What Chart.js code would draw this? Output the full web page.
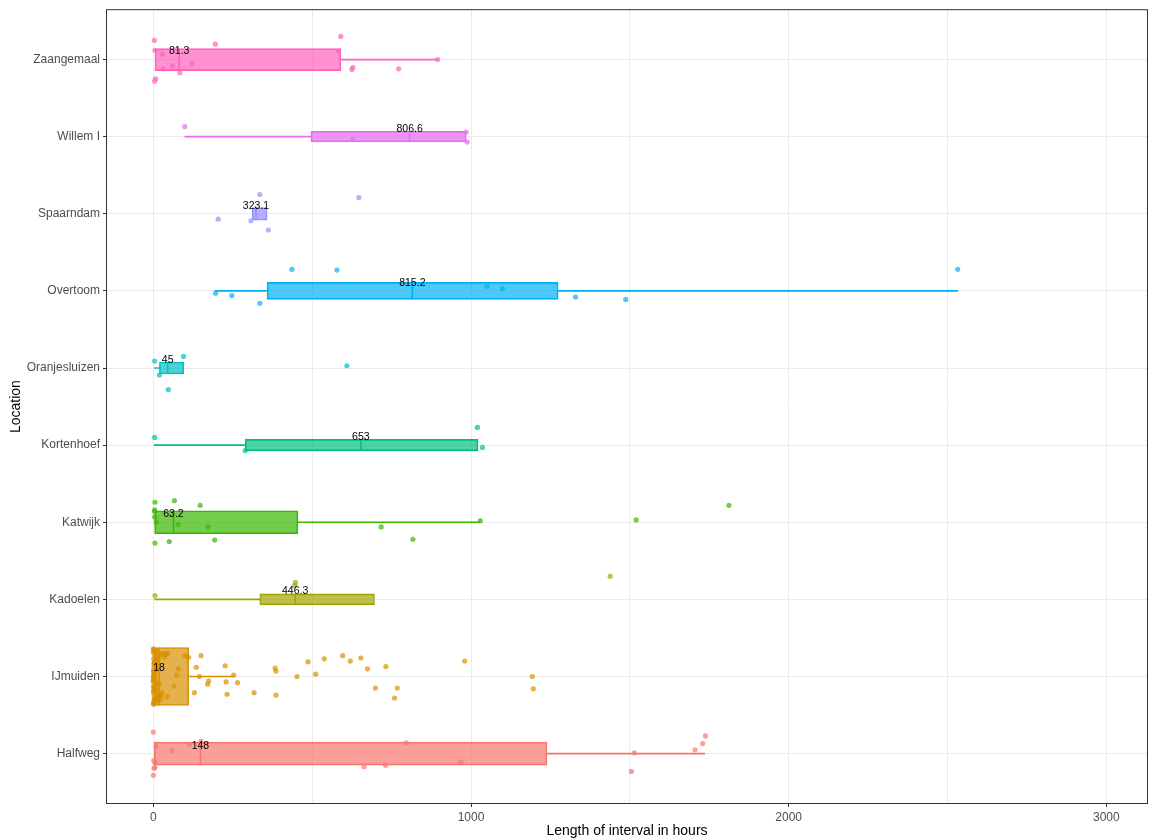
<!DOCTYPE html>
<html>
<head>
<meta charset="utf-8">
<script src="https://cdn.jsdelivr.net/npm/chart.js@4.4.1/dist/chart.umd.min.js"></script>
<style>
  html, body { margin: 0; padding: 0; background: #fff; }
  canvas { display: block; }
</style>
</head>
<body>
<canvas id="mychart" width="1151" height="840"></canvas>
<script>
// locations from bottom (1) to top (10)
const locations = ['Halfweg', 'IJmuiden', 'Kadoelen', 'Katwijk', 'Kortenhoef',
                   'Oranjesluizen', 'Overtoom', 'Spaarndam', 'Willem I', 'Zaangemaal'];

const lowWhisker  = [null, null, 4,     null, 3,    3,  194,   null,  99,    null];
const q1          = [3,    5,    335,   4,    289,  19, 358,   311,   496,   5];
const medians     = [148,  18,   446.3, 63.2, 653,  45, 815.2, 323.1, 806.6, 81.3];
const q3          = [1239, 111,  696,   455,  1022, 96, 1274,  358,   985,   590];
const highWhisker = [1736, 253,  null,  1029, null, null, 2532, null, null,  895];

const xTicks = [0, 500, 1000, 1500, 2000, 2500, 3000];

// jittered observations: hours and vertical jitter (in category units)
const pointHours = [
  [0, 8, 59, 113, 150, 1, 5, 2, 5, 0, 663, 731, 796, 968, 1514, 1505, 1705, 1729, 1738],
  [100, 111, 150, 135, 145, 78, 74, 65, 44, 129, 174, 171, 226, 229, 253, 265, 232, 317, 383, 386,
   386, 452, 487, 511, 538, 596, 620, 653, 674, 732, 699, 768, 759, 980, 1193, 1196,
   0, 1, 2, 3, 0, 5, 8, 2, 12, 4, 1, 0, 6, 15, 3, 9, 22, 2, 0, 7,
   18, 1, 4, 30, 11, 0, 2, 5, 25, 3, 14, 1, 8, 0, 40, 6, 2, 19, 3, 10,
   1, 27, 0, 4, 35, 2, 9, 16, 1, 5, 0, 13, 3, 21, 7, 2, 45, 1, 0, 6],
  [5, 447, 445, 1438],
  [5, 66, 147, 4, 4, 4, 9, 78, 172, 717, 1029, 817, 5, 50, 193, 1520, 1812],
  [4, 289, 1020, 1036],
  [4, 95, 19, 47, 609],
  [196, 247, 335, 436, 578, 1050, 1099, 1329, 1487, 2532],
  [335, 647, 204, 307, 362],
  [99, 628, 985, 988],
  [3, 5, 28, 195, 590, 583, 60, 31, 83, 122, 7, 4, 628, 625, 772, 895]
];
const pointJitter = [
  [0.28, 0.09, 0.04, 0.12, 0.16, -0.09, -0.12, -0.19, -0.18, -0.28, -0.17, -0.15, 0.14, -0.11, 0.01, -0.23, 0.05, 0.13, 0.23],
  [0.27, 0.25, 0.27, 0.12, 0.0, 0.10, 0.02, -0.12, -0.26, -0.21, -0.06, -0.10, 0.14, -0.07, 0.02, -0.08, -0.23, -0.21, 0.11, 0.07,
   -0.24, 0.0, 0.19, 0.03, 0.23, 0.27, 0.20, 0.24, 0.10, 0.13, -0.15, -0.15, -0.28, 0.20, 0.0, -0.16,
   0.31, -0.22, 0.05, 0.18, -0.35, 0.27, -0.08, 0.12, 0.33, -0.29, 0.02, 0.36, -0.15, 0.22, -0.02, 0.09, 0.28, -0.31, -0.19, 0.15,
   -0.26, 0.07, -0.12, 0.3, 0.24, -0.05, 0.34, -0.33, -0.24, 0.19, 0.11, -0.36, 0.26, 0.0, 0.29, -0.18, 0.16, -0.1, -0.27, 0.21,
   0.35, -0.21, -0.13, 0.04, 0.25, -0.34, 0.13, -0.28, 0.08, 0.32, -0.07, -0.23, 0.17, -0.3, 0.2, -0.16, 0.3, 0.23, -0.04, -0.32],
  [0.05, 0.22, 0.18, 0.30],
  [0.26, 0.28, 0.22, 0.16, 0.14, 0.07, 0.0, -0.03, -0.06, -0.06, 0.02, -0.22, -0.27, -0.25, -0.23, 0.03, 0.22],
  [0.10, -0.07, 0.23, -0.03],
  [0.09, 0.15, -0.09, -0.28, 0.03],
  [-0.03, -0.06, -0.16, 0.28, 0.27, 0.06, 0.03, -0.08, -0.11, 0.28],
  [0.25, 0.21, -0.07, -0.09, -0.21],
  [0.13, -0.03, 0.06, -0.07],
  [0.25, 0.12, 0.07, 0.20, 0.30, 0.11, -0.08, -0.12, -0.17, -0.05, -0.25, -0.28, -0.10, -0.13, -0.12, 0.0]
];

// styles
const colors = ['#F8766D', '#D89000', '#A3A500', '#39B600', '#00BF7D',
                '#00BFC4', '#00B0F6', '#9590FF', '#E76BF3', '#FF62BC'];
const boxHeights = [23, 58, 11, 23, 11.5, 12, 17, 12.5, 10.5, 22];
const FONT = '"Liberation Sans", Arial, sans-serif';

function fade(hex, a) {
  const n = parseInt(hex.slice(1), 16);
  return `rgba(${n >> 16}, ${(n >> 8) & 255}, ${n & 255}, ${a})`;
}

const datasets = [];

// jitter points
locations.forEach((loc, i) => {
  datasets.push({
    type: 'scatter',
    label: loc,
    data: pointHours[i].map((h, k) => ({ x: h, y: i + 1 + pointJitter[i][k] })),
    backgroundColor: fade(colors[i], 0.7),
    borderWidth: 0,
    pointRadius: 2.6,
    order: 0
  });
});

// boxes
locations.forEach((loc, i) => {
  datasets.push({
    type: 'bar',
    label: loc + ' box',
    boxOf: i,
    data: [{ x: [q1[i], q3[i]], y: i + 1 }],
    backgroundColor: fade(colors[i], 0.7),
    borderColor: colors[i],
    borderWidth: 1,
    borderSkipped: false,
    barThickness: boxHeights[i],
    grouped: false,
    order: 1
  });
});

// whiskers
const lowData = [], highData = [];
locations.forEach((loc, i) => {
  if (lowWhisker[i] !== null) lowData.push({ x: [lowWhisker[i], q1[i]], y: i + 1 });
  if (highWhisker[i] !== null) highData.push({ x: [q3[i], highWhisker[i]], y: i + 1 });
});
[lowData, highData].forEach(d => {
  datasets.push({
    type: 'bar',
    data: d,
    backgroundColor: ctx => colors[ctx.raw.y - 1],
    borderWidth: 0,
    barThickness: 1,
    grouped: false,
    order: 2
  });
});

const boxPlugin = {
  id: 'boxExtras',
  afterDatasetDraw(chart, args) {
    const ds = chart.data.datasets[args.index];
    if (ds.boxOf === undefined) return;
    const i = ds.boxOf;
    const {ctx, scales: {x, y}} = chart;
    const px = x.getPixelForValue(medians[i]);
    const py = y.getPixelForValue(i + 1);
    const h = boxHeights[i] / 2;
    ctx.save();
    ctx.strokeStyle = colors[i];
    ctx.lineWidth = 1.5;
    ctx.beginPath();
    ctx.moveTo(px, py - h);
    ctx.lineTo(px, py + h);
    ctx.stroke();
    ctx.restore();
  },
  afterDatasetsDraw(chart) {
    const {ctx, scales: {x, y}} = chart;
    ctx.save();
    ctx.fillStyle = '#000';
    ctx.font = '10.5px ' + FONT;
    ctx.textAlign = 'center';
    ctx.textBaseline = 'middle';
    medians.forEach((m, i) => {
      ctx.fillText(String(m), x.getPixelForValue(m), y.getPixelForValue(i + 1) - 8);
    });
    ctx.restore();
  },
  afterDraw(chart) {
    const {ctx, chartArea: a} = chart;
    ctx.save();
    ctx.strokeStyle = '#333333';
    ctx.lineWidth = 1;
    ctx.strokeRect(a.left - 0.5, a.top - 0.5, a.right - a.left + 1, a.bottom - a.top + 1);
    ctx.restore();
  }
};

new Chart(document.querySelector('#mychart'), {
  type: 'bar',
  data: { datasets },
  options: {
    indexAxis: 'y',
    responsive: false,
    animation: false,
    layout: { padding: { top: 9, right: 2, left: 0, bottom: 0 } },
    plugins: { legend: { display: false }, tooltip: { enabled: false } },
    scales: {
      x: {
        type: 'linear',
        min: -146,
        max: 3128,
        offset: false,
        afterBuildTicks: s => { s.ticks = xTicks.map(v => ({ value: v })); },
        afterFit: s => { s.height = 37; },
        border: { display: false },
        grid: {
          color: '#ebebeb',
          lineWidth: 1,
          offset: false,
          tickLength: 4,
          tickColor: c => (c.tick && c.tick.value % 1000 === 0) ? '#333333' : 'rgba(0,0,0,0)'
        },
        ticks: {
          color: '#4d4d4d',
          font: { family: FONT, size: 12 },
          padding: 3,
          autoSkip: false,
          maxRotation: 0,
          callback: v => v % 1000 === 0 ? String(v) : ''
        },
        title: {
          display: true,
          text: 'Length of interval in hours',
          color: '#000',
          font: { family: FONT, size: 14 },
          padding: { top: 0, bottom: 0 }
        }
      },
      y: {
        type: 'linear',
        min: 0.36,
        max: 10.64,
        offset: false,
        afterBuildTicks: s => { s.ticks = locations.map((l, i) => ({ value: i + 1 })); },
        afterFit: s => { s.width = 107; },
        border: { display: false },
        grid: { color: '#ebebeb', lineWidth: 1, offset: false, tickLength: 4, tickColor: '#333333' },
        ticks: {
          color: '#4d4d4d',
          font: { family: FONT, size: 12 },
          padding: 3,
          autoSkip: false,
          callback: v => locations[Math.round(v) - 1]
        },
        title: {
          display: true,
          text: 'Location',
          color: '#000',
          font: { family: FONT, size: 14 },
          padding: { top: 8, bottom: 0 }
        }
      }
    }
  },
  plugins: [boxPlugin]
});
</script>
</body>
</html>
